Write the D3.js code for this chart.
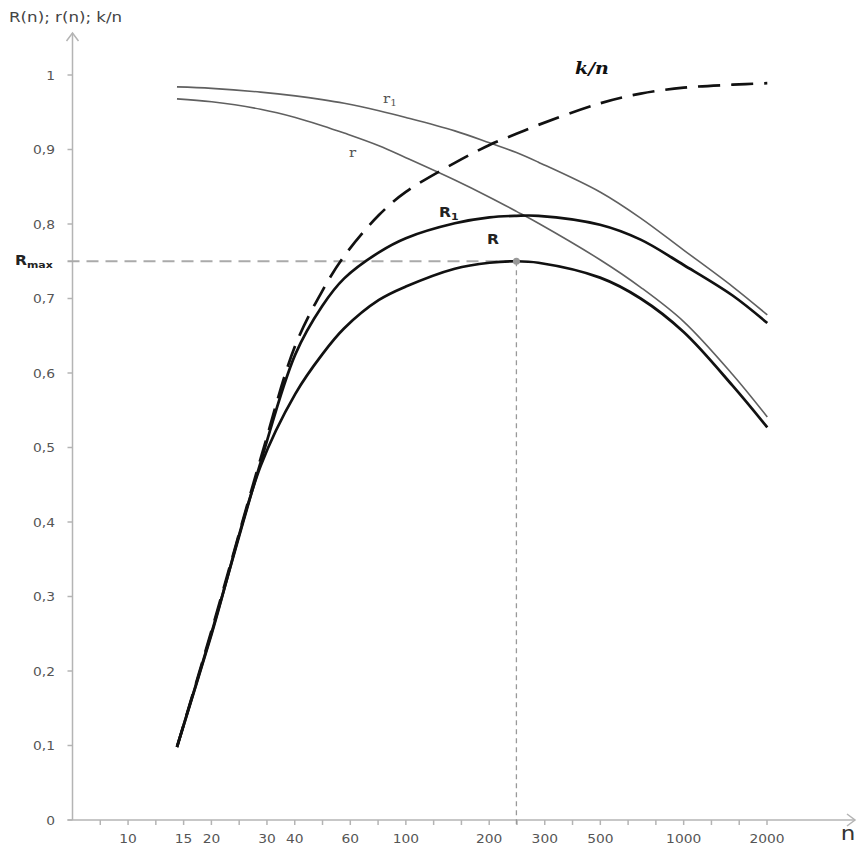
<!DOCTYPE html>
<html lang="en">
<head>
    <meta charset="UTF-8">
    <title>R(n); r(n); k/n</title>
    <style>
        body { margin: 0; background: #fff; }
        svg { display: block; font-family: "DejaVu Sans", "Open Sans", sans-serif; }
    </style>
    <script src="https://d3js.org/d3.v7.min.js"></script>
</head>
<body>
    <div id="chart"></div>

    <script>
        const width = 857;
        const height = 847;

        // sample sizes n (shared by all curves)
        const nValues = [15, 20, 30, 40, 50, 60, 80, 100, 150, 200, 250, 300, 500, 700, 1000, 1500, 2000];

        // curves
        const rValues  = [0.968, 0.964, 0.954, 0.943, 0.932, 0.922, 0.905, 0.889, 0.859, 0.836, 0.817, 0.801, 0.752, 0.715, 0.669, 0.598, 0.541];
        const r1Values = [0.984, 0.982, 0.977, 0.972, 0.967, 0.962, 0.952, 0.943, 0.925, 0.909, 0.896, 0.883, 0.843, 0.808, 0.765, 0.716, 0.678];
        const RValues  = [0.098, 0.250, 0.475, 0.572, 0.625, 0.660, 0.698, 0.716, 0.740, 0.748, 0.750, 0.748, 0.728, 0.700, 0.655, 0.583, 0.527];
        const R1Values = [0.098, 0.252, 0.480, 0.625, 0.690, 0.727, 0.762, 0.781, 0.801, 0.809, 0.811, 0.811, 0.799, 0.779, 0.745, 0.704, 0.667];
        const knValues = [0.098, 0.255, 0.485, 0.637, 0.710, 0.757, 0.812, 0.843, 0.882, 0.906, 0.921, 0.933, 0.962, 0.975, 0.983, 0.987, 0.989];

        // optimum
        const nOpt = 250;
        const Rmax = 0.75;

        // x axis: one tick every tenth of a decade, some of them labelled
        const xTickExps = [0.9, 1.0, 1.1, 1.2, 1.3, 1.4, 1.5, 1.6, 1.7, 1.8, 1.9, 2.0, 2.1, 2.2, 2.3,
                           2.4, 2.5, 2.6, 2.7, 2.8, 2.9, 3.0, 3.1, 3.2, 3.3];
        const xLabelExps = [1.0, 1.2, 1.3, 1.5, 1.6, 1.8, 2.0, 2.3, 2.5, 2.7, 3.0, 3.3];
        const xLabels = ["10", "15", "20", "30", "40", "60", "100", "200", "300", "500", "1000", "2000"];

        // y axis
        const yTicks = [0, 0.1, 0.2, 0.3, 0.4, 0.5, 0.6, 0.7, 0.8, 0.9, 1];
        const yLabels = ["0", "0,1", "0,2", "0,3", "0,4", "0,5", "0,6", "0,7", "0,8", "0,9", "1"];

        const x = d3.scaleLog()
            .domain([Math.pow(10, 0.8), Math.pow(10, 3.3)])
            .range([72.5, 767]);
        const y = d3.scaleLinear()
            .domain([0, 1])
            .range([820, 75]);

        const x0 = x.range()[0];
        const y0 = y(0);
        const axisColor = "#b4b4b4";
        const textColor = "#555";
        const stretch = 1.15;   // the original picture is a bit wider than tall

        const svg = d3.select("#chart")
            .append("svg")
            .attr("width", width)
            .attr("height", height);

        // text helper: widened glyphs like in the reference
        function label(px, py) {
            return svg.append("text")
                .attr("transform", `translate(${px},${py}) scale(${stretch},1)`);
        }

        // --- axes ---
        const axes = svg.append("g")
            .attr("stroke", axisColor)
            .attr("stroke-width", 1.5)
            .attr("fill", "none");

        axes.append("line")
            .attr("x1", x0).attr("y1", y0)
            .attr("x2", x0).attr("y2", 33);
        axes.append("path")
            .attr("d", `M${x0 - 6},${41} L${x0},${33} L${x0 + 6},${41}`);

        axes.append("line")
            .attr("x1", x0 - 5).attr("y1", y0)
            .attr("x2", 855).attr("y2", y0);
        axes.append("path")
            .attr("d", `M${847},${y0 - 6} L${855},${y0} L${847},${y0 + 6}`);

        axes.selectAll(".xt")
            .data(xTickExps)
            .enter().append("line")
            .attr("x1", d => x(Math.pow(10, d)))
            .attr("x2", d => x(Math.pow(10, d)))
            .attr("y1", y0)
            .attr("y2", y0 + 5);

        axes.selectAll(".yt")
            .data(yTicks)
            .enter().append("line")
            .attr("x1", x0 - 5)
            .attr("x2", x0)
            .attr("y1", d => y(d))
            .attr("y2", d => y(d));

        svg.append("g")
            .attr("fill", textColor)
            .attr("font-size", 12)
            .attr("text-anchor", "middle")
            .selectAll("text")
            .data(xLabelExps)
            .enter().append("text")
            .attr("transform", d => `translate(${x(Math.pow(10, d))},843) scale(${stretch},1)`)
            .text((d, i) => xLabels[i]);

        svg.append("g")
            .attr("fill", textColor)
            .attr("font-size", 12)
            .attr("text-anchor", "end")
            .selectAll("text")
            .data(yTicks)
            .enter().append("text")
            .attr("transform", d => `translate(55,${y(d) + 4.5}) scale(${stretch},1)`)
            .text((d, i) => yLabels[i]);

        label(9, 22)
            .attr("font-size", 14.5)
            .attr("fill", "#444")
            .text("R(n); r(n); k/n");

        label(848, 840)
            .attr("font-size", 20)
            .attr("fill", "#333")
            .attr("text-anchor", "middle")
            .text("n");

        // --- Rmax guides ---
        svg.append("line")
            .attr("x1", x0 - 5).attr("y1", y(Rmax))
            .attr("x2", x(nOpt)).attr("y2", y(Rmax))
            .attr("stroke", "#aaa")
            .attr("stroke-width", 2.2)
            .attr("stroke-dasharray", "12,7");
        svg.append("line")
            .attr("x1", x(nOpt)).attr("y1", y(Rmax))
            .attr("x2", x(nOpt)).attr("y2", y0 + 5)
            .attr("stroke", "#999")
            .attr("stroke-width", 1.3)
            .attr("stroke-dasharray", "5,4");

        const rmaxLabel = label(15, y(Rmax) + 4)
            .attr("font-weight", "bold")
            .attr("fill", "#222")
            .attr("font-size", 13.5);
        rmaxLabel.append("tspan").text("R");
        rmaxLabel.append("tspan").attr("font-size", 9.5).attr("dy", 3).text("max");

        // --- curves ---
        const line = d3.line()
            .x(d => x(d[0]))
            .y(d => y(d[1]))
            .curve(d3.curveCatmullRom.alpha(0.5));

        const series = [
            { values: rValues,  stroke: "#606060", width: 1.6, dash: null },
            { values: r1Values, stroke: "#606060", width: 1.6, dash: null },
            { values: R1Values, stroke: "#111", width: 2.7, dash: null },
            { values: RValues,  stroke: "#111", width: 2.7, dash: null },
            { values: knValues, stroke: "#111", width: 2.7, dash: "22,11" }
        ];

        svg.append("g")
            .attr("fill", "none")
            .selectAll("path")
            .data(series)
            .enter().append("path")
            .attr("d", s => line(nValues.map((n, i) => [n, s.values[i]])))
            .attr("stroke", s => s.stroke)
            .attr("stroke-width", s => s.width)
            .attr("stroke-dasharray", s => s.dash);

        svg.append("circle")
            .attr("cx", x(nOpt))
            .attr("cy", y(Rmax))
            .attr("r", 3.5)
            .attr("fill", "#999");

        // --- curve labels ---
        const r1Label = label(383, 103)
            .attr("font-family", "'DejaVu Serif', serif")
            .attr("font-size", 13)
            .attr("fill", "#555");
        r1Label.append("tspan").text("r");
        r1Label.append("tspan").attr("font-size", 9).attr("dy", 3).text("1");

        label(349, 157)
            .attr("font-family", "'DejaVu Serif', serif")
            .attr("font-size", 13)
            .attr("fill", "#555")
            .text("r");

        const R1Label = label(439, 217)
            .attr("font-weight", "bold")
            .attr("font-size", 13.5)
            .attr("fill", "#222");
        R1Label.append("tspan").text("R");
        R1Label.append("tspan").attr("font-size", 9.5).attr("dy", 3).text("1");

        label(487, 244)
            .attr("font-weight", "bold")
            .attr("font-size", 13.5)
            .attr("fill", "#222")
            .text("R");

        label(575, 74)
            .attr("font-family", "'DejaVu Serif', serif")
            .attr("font-style", "italic")
            .attr("font-weight", "bold")
            .attr("font-size", 16.5)
            .attr("fill", "#111")
            .text("k/n");
    </script>
</body>
</html>
